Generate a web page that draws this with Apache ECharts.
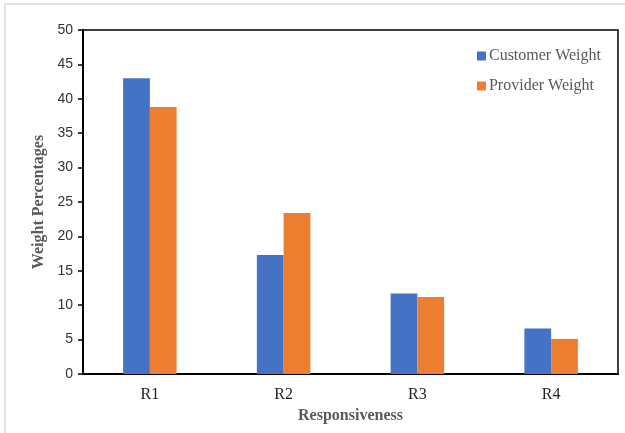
<!DOCTYPE html>
<html>
<head>
<meta charset="utf-8">
<script src="https://cdn.jsdelivr.net/npm/echarts@6/dist/echarts.min.js"></script>
<style>
  html, body { margin: 0; padding: 0; background: #fff; }
  #chart { width: 625px; height: 433px; }
</style>
</head>
<body>
<div id="chart"></div>
<script>
// Responsiveness criteria and their weight percentages
const categories = ['R1', 'R2', 'R3', 'R4'];
const customerWeight = [43.0, 17.3, 11.7, 6.6];
const providerWeight = [38.8, 23.4, 11.2, 5.1];
const yTicks = { min: 0, max: 50, interval: 5 };

const serif = '"Liberation Serif", "Times New Roman", serif';
const sans = '"Liberation Sans", Arial, sans-serif';

const chart = echarts.init(document.getElementById('chart'), null, { renderer: 'canvas' });

chart.setOption({
  backgroundColor: '#ffffff',
  animation: false,
  graphic: [{
    type: 'rect',
    shape: { x: 5, y: 4, width: 640, height: 460 },
    style: { fill: 'none', stroke: '#d9d9d9', lineWidth: 1.5 },
    silent: true,
    z: -1
  }],
  grid: {
    left: 83, right: 7, top: 30, bottom: 59,
    show: true, borderColor: '#000', borderWidth: 1.5
  },
  legend: {
    orient: 'vertical',
    right: 19, top: 43,
    itemWidth: 9, itemHeight: 9, itemGap: 14,
    icon: 'rect',
    textStyle: { fontFamily: serif, fontSize: 16, color: '#595959', padding: [0, 0, 0, -2] },
    data: ['Customer Weight', 'Provider Weight']
  },
  xAxis: {
    type: 'category',
    data: categories,
    name: 'Responsiveness',
    nameLocation: 'middle',
    nameGap: 33,
    nameTextStyle: { fontFamily: serif, fontSize: 16, fontWeight: 'bold', color: '#595959' },
    axisLine: { lineStyle: { color: '#000', width: 2 } },
    axisTick: { show: false },
    axisLabel: { fontFamily: serif, fontSize: 16, color: '#222', margin: 13 }
  },
  yAxis: {
    type: 'value',
    min: yTicks.min, max: yTicks.max, interval: yTicks.interval,
    name: 'Weight Percentages',
    nameLocation: 'middle',
    nameGap: 36,
    nameTextStyle: { fontFamily: serif, fontSize: 16, fontWeight: 'bold', color: '#595959' },
    axisLine: { show: true, lineStyle: { color: '#000', width: 2 } },
    axisTick: { show: true, length: 5, lineStyle: { color: '#000', width: 1.5 } },
    splitLine: { show: false },
    axisLabel: { fontFamily: sans, fontSize: 14, color: '#333', margin: 10 }
  },
  series: [
    {
      name: 'Customer Weight',
      type: 'bar',
      data: customerWeight,
      barWidth: '20%',
      barGap: '0%',
      itemStyle: { color: '#4472c4' }
    },
    {
      name: 'Provider Weight',
      type: 'bar',
      data: providerWeight,
      barWidth: '20%',
      itemStyle: { color: '#ed7d31' }
    }
  ]
});
</script>
</body>
</html>
